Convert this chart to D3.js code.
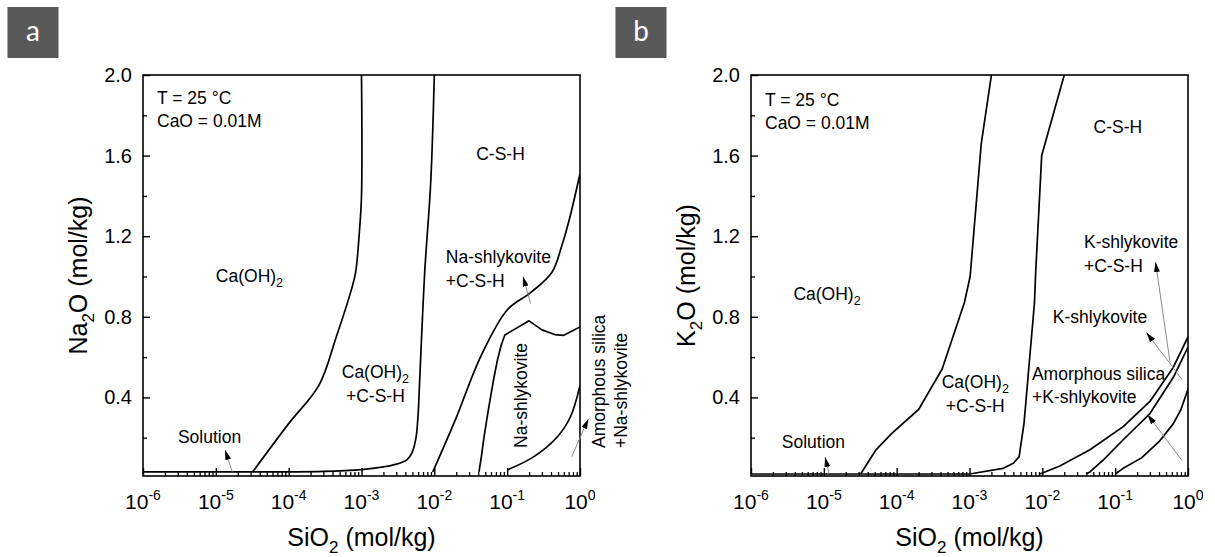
<!DOCTYPE html>
<html>
<head>
<meta charset="utf-8">
<script src="https://cdn.jsdelivr.net/npm/d3@7"></script>
<style>
  html, body { margin: 0; padding: 0; background: #fff; }
  svg text { font-family: "Liberation Sans", Arial, Helvetica, sans-serif; fill: #000; }
</style>
</head>
<body>
<svg id="chart" width="1215" height="557"></svg>
<script>
// ---- Axes ----
const siO2Decades = [-6, -5, -4, -3, -2, -1, 0];          // tick exponents, SiO2 (mol/kg)
const oxideTicks = [0.4, 0.8, 1.2, 1.6, 2.0];              // labelled oxide ticks (mol/kg)
const oxideMinorTicks = [0.2, 0.6, 1.0, 1.4, 1.8];

// ---- Panel a: Na2O system, boundaries as [SiO2, Na2O] ----
const naSolution = [[1e-6, 0.03], [3.2e-5, 0.03]];
const naPortlanditeEdge = [[3.2e-5, 0.03], [1.0e-4, 0.27], [2.6e-4, 0.46], [4.5e-4, 0.70], [7.2e-4, 0.93],
  [8.3e-4, 1.02], [9.3e-4, 1.21], [1.0e-3, 1.40], [1.0e-3, 2.0]];
const naCSHEdge = [[3.2e-5, 0.03], [3e-4, 0.033], [1e-3, 0.042], [2.0e-3, 0.055], [2.75e-3, 0.065],
  [4.2e-3, 0.09], [5.0e-3, 0.13], [5.6e-3, 0.2], [6.0e-3, 0.32], [6.3e-3, 0.49], [7.4e-3, 1.03],
  [8.9e-3, 1.46], [1.0e-2, 2.0]];
const naShlykCSHEdge = [[9.5e-3, 0.03], [2.0e-2, 0.30], [4.3e-2, 0.60], [0.1, 0.834], [0.21, 0.92],
  [0.41, 1.02], [0.56, 1.15], [0.71, 1.28], [1.0, 1.51]];
const naShlykEdge = [[4.1e-2, 0.03], [4.4e-2, 0.10], [4.8e-2, 0.20], [5.3e-2, 0.30], [5.9e-2, 0.40],
  [6.6e-2, 0.50], [7.4e-2, 0.59], [8.3e-2, 0.66], [9.3e-2, 0.71], [0.2, 0.78], [0.3, 0.735],
  [0.45, 0.712], [0.6, 0.708], [1.0, 0.75]];
const naSilicaEdge = [[0.1, 0.04], [0.23, 0.105], [0.49, 0.205], [0.74, 0.304], [1.0, 0.46]];

// ---- Panel b: K2O system, boundaries as [SiO2, K2O] ----
const kSolution = [[1e-6, 0.02], [3.2e-5, 0.02]];
const kPortlanditeEdge = [[3.2e-5, 0.02], [5.2e-5, 0.14], [8.5e-5, 0.22], [2.0e-4, 0.34], [4.2e-4, 0.54],
  [8.5e-4, 0.87], [1.02e-3, 1.0], [1.45e-3, 1.66], [2.0e-3, 2.0]];
const kCSHEdge = [[3.2e-5, 0.02], [1e-3, 0.02], [2.9e-3, 0.048], [4.0e-3, 0.073], [4.8e-3, 0.106],
  [5.6e-3, 0.27], [6.5e-3, 0.54], [7.8e-3, 0.87], [8.1e-3, 1.02], [9.8e-3, 1.60], [2.0e-2, 2.0]];
const kShlykCSHEdge = [[9.3e-3, 0.02], [1.74e-2, 0.06], [4.5e-2, 0.14], [0.129, 0.255], [0.30, 0.38],
  [0.63, 0.55], [1.0, 0.70]];
const kShlykEdge = [[4.0e-2, 0.02], [4.5e-2, 0.03], [6.9e-2, 0.09], [0.129, 0.19], [0.30, 0.32],
  [0.63, 0.50], [1.0, 0.65]];
const kSilicaEdge = [[0.1, 0.02], [0.129, 0.048], [0.23, 0.10], [0.40, 0.18], [0.63, 0.27],
  [0.8, 0.34], [1.0, 0.44]];

// ---- Region names: [SiO2, oxide, lines, anchor, rotated] ----
const naRegionLabels = [
  [1e-5, 0.975, [["Ca(OH)", "2"]], "start", false],
  [1.55e-3, 0.495, [["Ca(OH)", "2"], ["+C-S-H"]], "middle", false],
  [0.081, 1.578, [["C-S-H"]], "middle", false],
  [0.0144, 1.066, [["Na-shlykovite"], ["+C-S-H"]], "start", false],
  [8.2e-6, 0.172, [["Solution"]], "middle", false],
  [0.1875, 0.149, [["Na-shlykovite"]], "start", true],
  [2.2, 0.149, [["Amorphous silica"], ["+Na-shlykovite"]], "start", true]
];
const kRegionLabels = [
  [3.82e-6, 0.883, [["Ca(OH)", "2"]], "start", false],
  [1.2e-3, 0.445, [["Ca(OH)", "2"], ["+C-S-H"]], "middle", false],
  [0.109, 1.712, [["C-S-H"]], "middle", false],
  [0.0373, 1.14, [["K-shlykovite"], ["+C-S-H"]], "start", false],
  [0.062, 0.768, [["K-shlykovite"]], "middle", false],
  [7.2e-3, 0.486, [["Amorphous silica"], ["+K-shlykovite"]], "start", false],
  [7.2e-6, 0.147, [["Solution"]], "middle", false]
];

// ---- Pointer arrows: [tail SiO2, tail oxide, tip SiO2, tip oxide] ----
const naPointers = [
  [1.68e-5, 0.031, 1.34e-5, 0.139],
  [0.2095, 0.866, 0.165, 1.0],
  [0.769, 0.106, 1.30, 0.293]
];
const kPointers = [
  [1.18e-5, 0.022, 1.04e-5, 0.104],
  [0.566, 0.576, 0.358, 1.072],
  [0.828, 0.489, 0.269, 0.722],
  [0.82, 0.089, 0.278, 0.315]
];

const svg = d3.select("#chart");
const defs = svg.append("defs");
defs.append("marker")
  .attr("id", "pointerHead")
  .attr("viewBox", "0 0 10 6")
  .attr("preserveAspectRatio", "none")
  .attr("refX", 10).attr("refY", 3)
  .attr("markerWidth", 10).attr("markerHeight", 6)
  .attr("markerUnits", "userSpaceOnUse")
  .attr("orient", "auto")
  .append("path").attr("d", "M0,0L10,3L0,6Z").attr("fill", "#000");

const smooth = d3.curveCatmullRom.alpha(0.5);
const straight = d3.curveLinear;

function drawPanel(p) {
  const W = 437, top = 75, bottom = 476;
  const x = d3.scaleLog().domain([1e-6, 1]).range([p.left, p.left + W]);
  const y = d3.scaleLinear().domain([0.01, 2.0]).range([bottom, top]);
  const g = svg.append("g");

  // panel tag
  g.append("rect").attr("x", p.tagX).attr("y", 7).attr("width", 51).attr("height", 51).attr("fill", "#595959");
  g.append("text").attr("x", p.tagX + 25.5).attr("y", 41).attr("text-anchor", "middle")
    .style("font-family", "Lato, 'Open Sans', sans-serif").style("font-size", "28px").style("fill", "#fff")
    .text(p.tag);

  const clipId = "clip-" + p.tag;
  defs.append("clipPath").attr("id", clipId).append("rect")
    .attr("x", p.left).attr("y", top).attr("width", W).attr("height", bottom - top);

  // phase boundaries
  const edgeLayer = g.append("g").attr("clip-path", `url(#${clipId})`);
  p.edges.forEach(([pts, curve]) => {
    const line = d3.line().x(d => x(d[0])).y(d => y(d[1])).curve(curve);
    edgeLayer.append("path").datum(pts)
      .attr("d", line).attr("fill", "none").attr("stroke", "#000")
      .attr("stroke-width", 1.7).attr("stroke-linejoin", "round");
  });

  // bottom axis: major and minor ticks pointing inward
  const minorX = [];
  siO2Decades.slice(0, -1).forEach(e => { for (let k = 2; k <= 9; k++) minorX.push(k * Math.pow(10, e)); });
  const xMajor = siO2Decades.map(e => Math.pow(10, e));
  g.append("g").attr("transform", `translate(0,${bottom})`)
    .call(d3.axisBottom(x).tickValues(minorX).tickSize(-4).tickSizeOuter(0).tickFormat(""))
    .call(a => a.select(".domain").remove())
    .call(a => a.selectAll("line").attr("stroke-width", 1.3));
  g.append("g").attr("transform", `translate(0,${bottom})`)
    .call(d3.axisBottom(x).tickValues(xMajor).tickSize(-8).tickSizeOuter(0).tickFormat(""))
    .call(a => a.select(".domain").remove())
    .call(a => a.selectAll("line").attr("stroke-width", 1.4));
  const xl = g.append("g").selectAll("text").data(siO2Decades).join("text")
    .attr("x", e => x(Math.pow(10, e))).attr("y", 509)
    .attr("text-anchor", "middle").style("font-size", "21px");
  xl.append("tspan").text("10");
  xl.append("tspan").attr("dy", -9).style("font-size", "14px").text(e => String(e));

  // left axis
  g.append("g").attr("transform", `translate(${p.left},0)`)
    .call(d3.axisLeft(y).tickValues(oxideMinorTicks).tickSize(-4).tickSizeOuter(0).tickFormat(""))
    .call(a => a.select(".domain").remove())
    .call(a => a.selectAll("line").attr("stroke-width", 1.3));
  g.append("g").attr("transform", `translate(${p.left},0)`)
    .call(d3.axisLeft(y).tickValues(oxideTicks).tickSize(-7).tickSizeOuter(0).tickPadding(11).tickFormat(d3.format(".1f")))
    .call(a => a.select(".domain").remove())
    .call(a => a.selectAll("line").attr("stroke-width", 1.4))
    .call(a => a.selectAll("text").style("font-size", "20px")
      .style("font-family", "'Liberation Sans', Arial, sans-serif").attr("fill", "#000"));

  // frame
  g.append("rect").attr("x", p.left).attr("y", top).attr("width", W).attr("height", bottom - top)
    .attr("fill", "none").attr("stroke", "#000").attr("stroke-width", 1.6);

  // axis titles
  const xt = g.append("text").attr("x", p.left + W / 2).attr("y", 546)
    .attr("text-anchor", "middle").style("font-size", "25px");
  xt.append("tspan").text("SiO");
  xt.append("tspan").attr("dy", 7).style("font-size", "17px").text("2");
  xt.append("tspan").attr("dy", -7).text(" (mol/kg)");

  const yt = g.append("text").attr("transform", `translate(${p.left - 56},${(top + bottom) / 2}) rotate(-90)`)
    .attr("text-anchor", "middle").style("font-size", "25px");
  yt.append("tspan").text(p.oxide);
  yt.append("tspan").attr("dy", 7).style("font-size", "17px").text("2");
  yt.append("tspan").attr("dy", -7).text("O (mol/kg)");

  // conditions
  g.append("text").attr("x", p.left + 14).attr("y", p.condY).style("font-size", "17.5px").text("T = 25 °C");
  g.append("text").attr("x", p.left + 14).attr("y", p.condY + 22.5).style("font-size", "17.5px").text("CaO = 0.01M");

  // region names
  p.labels.forEach(([sx, sy, rows, anchor, rotated]) => {
    const px = x(sx), py = y(sy);
    const t = g.append("text").attr("text-anchor", anchor).style("font-size", "17.5px")
      .attr("transform", rotated ? `translate(${px},${py}) rotate(-90)` : `translate(${px},${py})`);
    rows.forEach((row, i) => {
      t.append("tspan").attr("x", 0).attr("y", rotated ? i * 22 : i * 23.3).text(row[0]);
      if (row[1]) {
        t.append("tspan").attr("dy", 5).style("font-size", "12.5px").text(row[1]);
      }
    });
  });

  // pointer arrows
  g.append("g").selectAll("line").data(p.pointers).join("line")
    .attr("x1", d => x(d[0])).attr("y1", d => y(d[1]))
    .attr("x2", d => x(d[2])).attr("y2", d => y(d[3]))
    .attr("stroke", "#8a8a8a").attr("stroke-width", 1)
    .attr("marker-end", "url(#pointerHead)");
}

drawPanel({
  tag: "a", tagX: 7.5, left: 143, oxide: "Na", condY: 104,
  edges: [[naSolution, straight], [naPortlanditeEdge, smooth], [naCSHEdge, smooth],
          [naShlykCSHEdge, smooth], [naShlykEdge, straight], [naSilicaEdge, smooth]],
  labels: naRegionLabels, pointers: naPointers
});
drawPanel({
  tag: "b", tagX: 615.5, left: 751, oxide: "K", condY: 106,
  edges: [[kSolution, straight], [kPortlanditeEdge, straight], [kCSHEdge, straight],
          [kShlykCSHEdge, straight], [kShlykEdge, straight], [kSilicaEdge, straight]],
  labels: kRegionLabels, pointers: kPointers
});
</script>
</body>
</html>
